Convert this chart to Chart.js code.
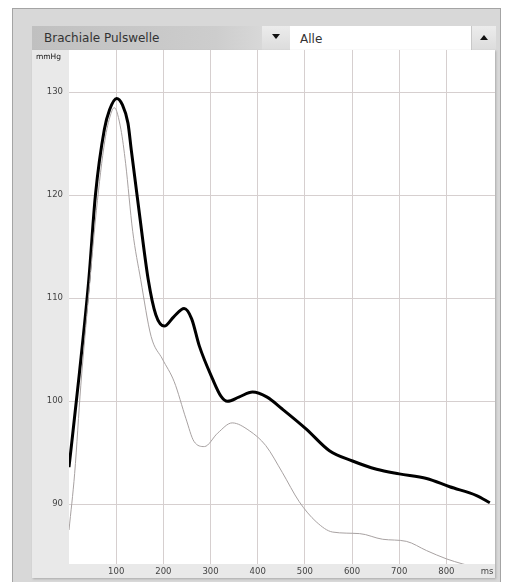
<!DOCTYPE html>
<html>
<head>
<meta charset="utf-8">
<script src="https://cdn.jsdelivr.net/npm/chart.js@4.4.1/dist/chart.umd.min.js"></script>
<style>
  html, body { margin: 0; padding: 0; background: #fff; }
  body { width: 508px; height: 582px; position: relative; overflow: hidden; font-family: "DejaVu Sans", sans-serif; }
  #frame { position: absolute; left: 12px; top: 8px; width: 487px; height: 590px; background: #d8d8d8; border: 1px solid #a4a4a4; }
  #hdr-left { position: absolute; left: 32px; top: 26px; width: 230px; height: 24px; background: linear-gradient(to right, #c0c0c0, #cdcdcd 80%, #d8d8d8); color: #333; font-size: 12px; line-height: 25px; }
  #hdr-left span { padding-left: 12px; }
  .btn { position: absolute; top: 26px; height: 24px; background: linear-gradient(#ececec, #dcdcdc); }
  .btn .tri { position: absolute; left: 50%; top: 50%; width: 0; height: 0; border-left: 4px solid transparent; border-right: 4px solid transparent; margin-left: -4px; }
  #btn1 { left: 262px; width: 28px; }
  #btn1 .tri { border-top: 5px solid #111; margin-top: -4px; }
  #btn2 { left: 471px; width: 24px; border-left: 1px solid #c8c8c8; }
  #btn2 .tri { border-bottom: 5px solid #111; margin-top: -3px; }
  #hdr-white { position: absolute; left: 290px; top: 26px; width: 181px; height: 24px; background: #fff; color: #333; font-size: 12px; line-height: 26px; }
  #hdr-white span { padding-left: 10px; }
  #wrap { position: absolute; left: 32px; top: 50px; width: 463px; height: 528px; background: #e9e9e9; box-shadow: 1px 1px 2px #aaa; }
  #unit { position: absolute; left: 36px; top: 52px; font-size: 7.5px; color: #111; }
</style>
</head>
<body>
<div id="frame"></div>
<div id="hdr-left"><span>Brachiale Pulswelle</span></div>
<div class="btn" id="btn1"><div class="tri"></div></div>
<div id="hdr-white"><span>Alle</span></div>
<div class="btn" id="btn2"><div class="tri"></div></div>
<div id="wrap"><canvas id="lineChart" width="463" height="528"></canvas></div>
<div id="unit">mmHg</div>
<script>
// time axis (ms) and pressure (mmHg)
const thickMs = [0, 22, 42, 56, 75, 86, 101, 113, 125, 132, 149, 168, 184, 202, 222, 244, 260, 276, 304, 322, 336, 360, 389, 420, 452, 503, 552, 601, 652, 700, 758, 807, 864, 892];
const thickMmHg = [93.6, 102.7, 111.8, 120.0, 126.4, 128.3, 129.4, 128.8, 127.0, 124.4, 118.3, 111.8, 108.4, 107.3, 108.2, 109.0, 108.0, 105.4, 102.2, 100.5, 100.0, 100.4, 100.9, 100.4, 99.25, 97.3, 95.2, 94.2, 93.4, 92.95, 92.5, 91.7, 90.85, 90.15];

const thinMs = [0, 12, 25, 42, 58, 76, 88, 96, 110, 120, 135, 152, 174, 198, 223, 248, 265, 287, 315, 346, 382, 417, 452, 488, 524, 559, 616, 665, 715, 758, 800, 835, 860];
const thinMmHg = [87.5, 93.0, 101.5, 110.5, 118.5, 125.3, 127.8, 128.5, 126.4, 123.1, 116.5, 111.8, 106.3, 104.1, 101.9, 98.3, 96.1, 95.6, 96.9, 97.9, 97.15, 95.7, 93.1, 90.25, 88.3, 87.3, 87.15, 86.6, 86.4, 85.5, 84.7, 84.2, 83.9];

const yTicks = [90, 100, 110, 120, 130];
const xTicks = [100, 200, 300, 400, 500, 600, 700, 800];
const xUnitPos = 886; // where the "ms" label sits

const toPoints = (xs, ys) => xs.map((x, i) => ({ x: x, y: ys[i] }));

const plotBg = {
  id: 'plotBg',
  beforeDraw(chart) {
    const a = chart.chartArea, c = chart.ctx;
    c.save();
    c.fillStyle = '#fff';
    c.fillRect(a.left, a.top, a.right - a.left, a.bottom - a.top);
    c.restore();
  }
};

new Chart(document.getElementById('lineChart'), {
  type: 'line',
  data: {
    datasets: [
      {
        label: 'thin',
        data: toPoints(thinMs, thinMmHg),
        borderColor: '#a8a2a2',
        borderWidth: 1,
        pointRadius: 0,
        cubicInterpolationMode: 'monotone'
      },
      {
        label: 'thick',
        data: toPoints(thickMs, thickMmHg),
        borderColor: '#000',
        borderWidth: 3,
        pointRadius: 0,
        cubicInterpolationMode: 'monotone'
      }
    ]
  },
  options: {
    responsive: false,
    animation: false,
    layout: { padding: 0 },
    plugins: { legend: { display: false }, tooltip: { enabled: false } },
    scales: {
      x: {
        type: 'linear',
        min: 0,
        max: 903,
        afterBuildTicks: s => { s.ticks = xTicks.concat([xUnitPos]).map(v => ({ value: v })); },
        afterFit: s => { s.height = 14; s.paddingLeft = 0; s.paddingRight = 0; },
        border: { display: false },
        grid: {
          drawTicks: false,
          color: c => (c.tick && c.tick.value === xUnitPos) ? 'rgba(0,0,0,0)' : '#d6cfcf'
        },
        ticks: {
          padding: 3,
          autoSkip: false,
          maxRotation: 0,
          color: '#444',
          font: { family: 'DejaVu Sans', size: 8.5 },
          callback: v => v === xUnitPos ? 'ms' : v
        }
      },
      y: {
        min: 84.2,
        max: 134.1,
        afterBuildTicks: s => { s.ticks = yTicks.map(v => ({ value: v })); },
        afterFit: s => { s.width = 37; s.paddingTop = 0; s.paddingBottom = 0; },
        border: { display: false },
        grid: { drawTicks: false, color: '#d6cfcf' },
        ticks: {
          padding: 6,
          color: '#444',
          font: { family: 'DejaVu Sans', size: 8.5 }
        }
      }
    }
  },
  plugins: [plotBg]
});
</script>
</body>
</html>
